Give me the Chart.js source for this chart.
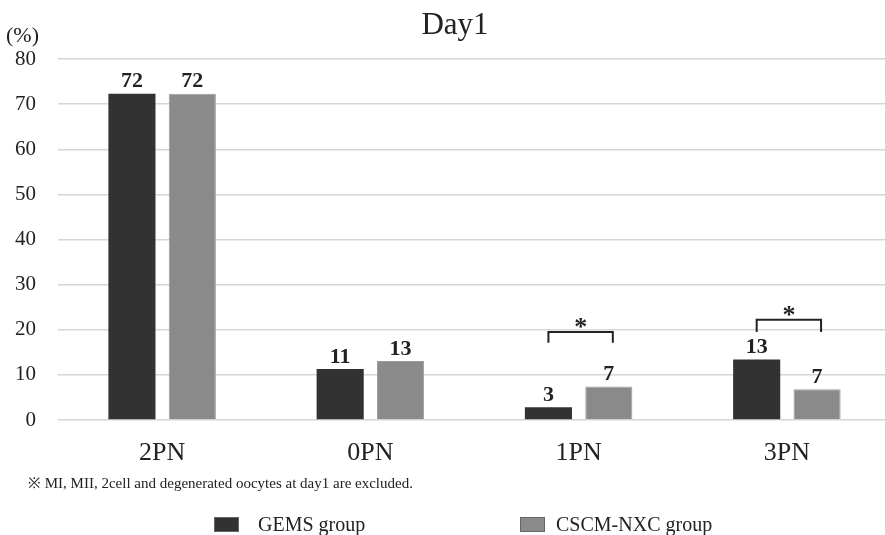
<!DOCTYPE html>
<html lang="en">

<head>
    <meta charset="UTF-8">
    <title>Day1</title>
    <style>
        body {
            margin: 0;
            background: #fff;
        }

        #wrap {
            width: 885px;
            height: 535px;
            overflow: hidden;
        }
    </style>
    <script src="https://cdn.jsdelivr.net/npm/chart.js"></script>
</head>

<body>
    <!-- canvas is a few px wider than the window: the plot runs off the right edge like the original -->
    <div id="wrap"><canvas id="myChart" width="891" height="535"></canvas></div>
    <script>
        // data
        var categories = ['2PN', '0PN', '1PN', '3PN'];
        var gemsValues = [72.3, 11.3, 2.8, 13.4];
        var cscmValues = [72.3, 13.1, 7.4, 6.8];
        var gemsLabels = ['72', '11', '3', '13'];
        var cscmLabels = ['72', '13', '7', '7'];
        var yTicks = [0, 10, 20, 30, 40, 50, 60, 70, 80];
        // significance brackets: category index, top of bracket, bottom of legs (in %)
        var sigIndex = [2, 3];
        var sigTop = [19.5, 22.2];
        var sigLeg = [17.1, 19.5];

        var serif = '"Liberation Serif", "DejaVu Serif", serif';

        var annotPlugin = {
            id: 'annot',
            afterDraw: function (chart) {
                var ctx = chart.ctx;
                var yScale = chart.scales.y;
                ctx.save();
                ctx.fillStyle = '#222';

                // title
                ctx.font = '31px ' + serif;
                ctx.textAlign = 'center';
                ctx.textBaseline = 'alphabetic';
                ctx.fillText('Day1', 455, 34);

                // unit
                ctx.font = '22px ' + serif;
                ctx.textAlign = 'left';
                ctx.fillText('(%)', 6, 42);

                // value labels on top of bars
                var labelSets = [gemsLabels, cscmLabels];
                ctx.font = 'bold 22px ' + serif;
                ctx.textAlign = 'center';
                ctx.textBaseline = 'bottom';
                for (var d = 0; d < 2; d++) {
                    var meta = chart.getDatasetMeta(d);
                    meta.data.forEach(function (bar, i) {
                        ctx.fillText(labelSets[d][i], bar.x, bar.y - 1);
                    });
                }

                // significance brackets
                ctx.strokeStyle = '#222';
                ctx.lineWidth = 2;
                for (var s = 0; s < sigIndex.length; s++) {
                    var x1 = chart.getDatasetMeta(0).data[sigIndex[s]].x;
                    var x2 = chart.getDatasetMeta(1).data[sigIndex[s]].x + 4;
                    var yt = yScale.getPixelForValue(sigTop[s]);
                    var yl = yScale.getPixelForValue(sigLeg[s]);
                    ctx.beginPath();
                    ctx.moveTo(x1, yl);
                    ctx.lineTo(x1, yt);
                    ctx.lineTo(x2, yt);
                    ctx.lineTo(x2, yl);
                    ctx.stroke();
                    ctx.font = 'bold 26px ' + serif;
                    ctx.textBaseline = 'alphabetic';
                    ctx.fillText('*', (x1 + x2) / 2, yt + 3);
                }

                // footnote
                ctx.font = '15px ' + serif;
                ctx.textAlign = 'left';
                ctx.textBaseline = 'alphabetic';
                ctx.fillText('\u203B MI, MII, 2cell and degenerated oocytes at day1 are excluded.', 28, 488);

                // legend
                var items = [
                    { box: 214, text: 258 },
                    { box: 520, text: 556 }
                ];
                ctx.font = '20px ' + serif;
                chart.data.datasets.forEach(function (ds, i) {
                    ctx.fillStyle = ds.backgroundColor;
                    ctx.fillRect(items[i].box, 517, 25, 15);
                    ctx.strokeStyle = '#666';
                    ctx.lineWidth = 1;
                    ctx.strokeRect(items[i].box + 0.5, 517.5, 24, 14);
                    ctx.fillStyle = '#222';
                    ctx.fillText(ds.label, items[i].text, 531);
                });
                ctx.restore();
            }
        };

        var ctx = document.getElementById('myChart').getContext('2d');
        var myChart = new Chart(ctx, {
            type: 'bar',
            data: {
                labels: categories,
                datasets: [{
                    label: 'GEMS group',
                    data: gemsValues,
                    backgroundColor: '#323232',
                    borderWidth: 0
                },
                {
                    label: 'CSCM-NXC group',
                    data: cscmValues,
                    backgroundColor: '#8a8a8a',
                    borderColor: '#9c9c9c',
                    borderWidth: 1
                }
                ]
            },
            options: {
                responsive: false,
                animation: false,
                categoryPercentage: 0.58,
                barPercentage: 0.78,
                layout: {
                    padding: { top: 59, bottom: 70, left: 0, right: 0 }
                },
                plugins: {
                    legend: { display: false },
                    title: { display: false },
                    tooltip: { enabled: false }
                },
                scales: {
                    x: {
                        grid: { display: false },
                        border: { display: false },
                        ticks: {
                            color: '#222',
                            padding: 10,
                            font: { family: serif, size: 26 }
                        },
                        afterFit: function (scale) { scale.height = 45; }
                    },
                    y: {
                        min: 0,
                        max: 80,
                        afterBuildTicks: function (scale) {
                            scale.ticks = yTicks.map(function (v) { return { value: v }; });
                        },
                        grid: { color: '#d6d6d6', lineWidth: 1.5, drawTicks: false },
                        border: { display: false },
                        ticks: {
                            color: '#222',
                            padding: 22,
                            font: { family: serif, size: 21 }
                        },
                        afterFit: function (scale) { scale.width = 58; }
                    }
                }
            },
            plugins: [annotPlugin]
        });
    </script>
</body>

</html>
